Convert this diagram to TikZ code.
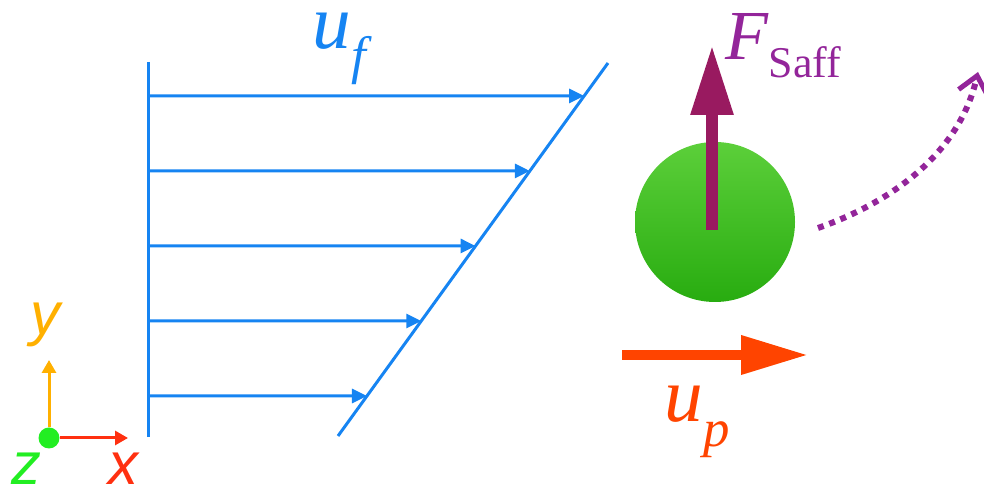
\documentclass[tikz,border=0pt]{standalone}
\usepackage{fontspec}
\setmainfont{Liberation Serif}
\setsansfont{Liberation Sans}
\usetikzlibrary{arrows.meta, positioning, calc}
\definecolor{flowblue}{HTML}{1684F2}
\definecolor{saffpurple}{HTML}{991A60}
\definecolor{saffviolet}{HTML}{93259A}
\definecolor{slipred}{HTML}{FF4400}
\definecolor{axisorange}{HTML}{FFB000}
\definecolor{axisred}{HTML}{FF3010}
\definecolor{axisgreen}{HTML}{22EE22}
\definecolor{spheretop}{HTML}{5CCF3A}
\definecolor{spherebot}{HTML}{28AC10}
\newcommand{\symsub}[2]{\textit{#1}\raisebox{-0.32em}{\fontsize{30}{30}\selectfont\textit{#2}}}
\tikzset{
  flowarrow/.style={draw=flowblue, line width=0.06cm, -{Triangle[width=0.28cm,length=0.3cm]}},
  axisarrow/.style={line width=0.06cm, -{Triangle[width=0.28cm,length=0.26cm]}},
  axislabel/.style={font=\sffamily\itshape\fontsize{34}{34}\selectfont, inner sep=0pt},
  biglabel/.style={font=\fontsize{44}{44}\selectfont, inner sep=0pt},
}

\begin{document}
\begin{tikzpicture}
  \useasboundingbox (0,0) rectangle (19.68,9.82);
  % shear profile
  \coordinate (walltop) at (2.96,8.58);
  \coordinate (wallbot) at (2.96,1.08);
  \coordinate (profbot) at (6.76,1.1);
  \coordinate (proftop) at (12.16,8.56);
  \draw[flowblue, line width=0.06cm] (walltop) -- (wallbot);
  \draw[flowblue, line width=0.06cm] (profbot) -- (proftop);
  \foreach \h in {7.9,6.4,4.9,3.4,1.9} {
    \coordinate (a) at (2.96,\h);
    \draw[flowarrow] (a) -- (intersection of a--{$(a)+(1,0)$} and profbot--proftop);
  }
  \node[biglabel, text=flowblue, anchor=base] (uf) at (6.85,8.85) {\symsub{u}{f}};

  % particle
  \node[circle, minimum size=3.2cm, top color=spheretop, bottom color=spherebot] (sphere) at (14.3,5.38) {};
  \coordinate (saffbase) at (14.24,5.22);
  \coordinate (safftip) at (14.24,8.92);
  \draw[saffpurple, line width=0.24cm, -{Triangle[width=0.8cm,length=1.4cm]}] (saffbase) -- (safftip);
  \node[biglabel, text=saffviolet, anchor=base west, font=\fontsize{40}{40}\selectfont] (fsaff) at (14.5,8.62)
    {\textit{F}\raisebox{-0.25em}{\fontsize{25}{25}\selectfont Saff}};

  % lift path
  \coordinate (liftstart) at (16.36,5.26);
  \coordinate (liftend) at (19.56,8.38);
  \draw[saffviolet, line width=0.12cm, dash pattern=on 0.12cm off 0.12cm,
    -{Straight Barb[width=0.6cm,length=0.35cm,line width=0.1cm]}]
    (liftstart) .. controls (17.9,5.8) and (19.2,6.8) .. (liftend);

  % slip velocity
  \coordinate (slipstart) at (12.44,2.72);
  \coordinate (slipend) at (16.16,2.72);
  \draw[slipred, line width=0.2cm, -{Triangle[width=0.74cm,length=1.34cm]}] (slipstart) -- (slipend);
  \node[biglabel, text=slipred, anchor=base] (up) at (13.95,1.38) {\symsub{u}{p}};

  % axes
  \coordinate (ytip) at (0.98,2.62);
  \coordinate (xtip) at (2.56,1.06);
  \node[circle, fill=axisgreen, inner sep=0pt, minimum size=0.42cm] (origin) at (0.98,1.06) {};
  \draw[axisarrow, axisorange] (origin.north) -- (ytip);
  \draw[axisarrow, axisred] (origin.east) -- (xtip);
  \node[axislabel, text=axisorange] (ylab) at (0.9,3.32) {y};
  \node[axislabel, text=axisgreen, anchor=base] (zlab) at (0.52,0.12) {z};
  \node[axislabel, text=axisred, anchor=base] (xlab) at (2.46,0.12) {x};
\end{tikzpicture}
\end{document}
